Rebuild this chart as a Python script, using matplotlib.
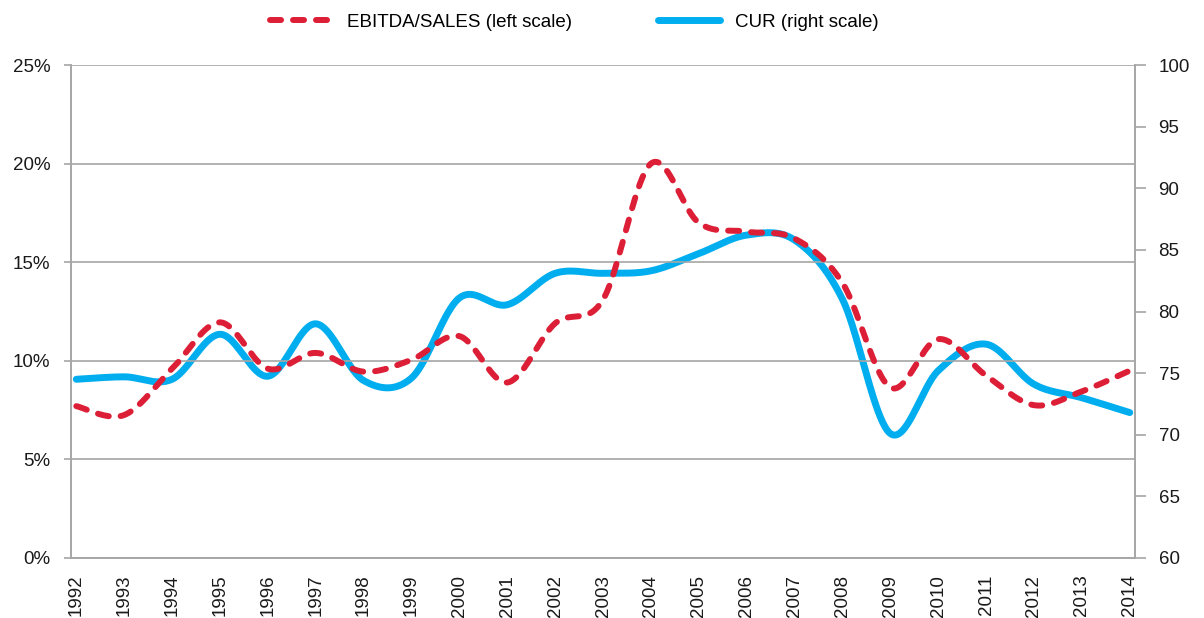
import numpy as np
import matplotlib.pyplot as plt

plt.rcParams['font.family'] = ['Liberation Sans', 'DejaVu Sans']

years = [str(y) for y in range(1992, 2015)]
ebitda_sales = [7.7, 7.25, 9.6, 11.95, 9.6, 10.4, 9.45, 10.05, 11.25, 8.9, 11.9, 13.1,
                20.0, 17.0, 16.55, 16.2, 13.95, 8.65, 11.1, 9.25, 7.75, 8.45, 9.5]
cur = [74.5, 74.7, 74.5, 78.15, 74.75, 79.0, 74.4, 74.6, 81.1, 80.55, 83.1, 83.1,
       83.3, 84.7, 86.2, 85.8, 81.0, 70.1, 75.2, 77.35, 74.1, 73.0, 71.8]

red = '#dc1f36'
blue = '#00aeef'
grid_col = '#a6a6a6'


def smooth(vals, n=40):
    # Excel style smoothed line (Catmull-Rom as cubic Bezier)
    x = np.arange(len(vals), dtype=float)
    y = np.asarray(vals, dtype=float)
    xs, ys = [], []
    t = np.linspace(0, 1, n)
    for i in range(len(y) - 1):
        i0 = max(i - 1, 0)
        i3 = min(i + 2, len(y) - 1)
        for arr, out in ((x, xs), (y, ys)):
            p0, p1, p2, p3 = arr[i0], arr[i], arr[i + 1], arr[i3]
            c1 = p1 + (p2 - p0) / 6
            c2 = p2 - (p3 - p1) / 6
            seg = ((1 - t) ** 3 * p1 + 3 * (1 - t) ** 2 * t * c1
                   + 3 * (1 - t) * t ** 2 * c2 + t ** 3 * p2)
            out.extend(seg if i == 0 else seg[1:])
    return np.array(xs), np.array(ys)


fig = plt.figure(figsize=(12.04, 6.18), dpi=100)
ax = fig.add_axes([0.059, 0.0971, 0.8837, 0.7977])
ax2 = ax.twinx()

ax.set_ylim(0, 25)
ax.set_yticks([0, 5, 10, 15, 20, 25])
ax.set_yticklabels([f'{v}%' for v in [0, 5, 10, 15, 20, 25]])
ax.yaxis.grid(True, color=grid_col, linewidth=1.2)
ax.set_axisbelow(True)
ax2.set_ylim(60, 100)
ax2.set_yticks(range(60, 101, 5))

ax.set_xlim(-0.11, 22.11)
ax.set_xticks(range(len(years)))
ax.set_xticklabels(years, rotation=90, va='top')

for a in (ax, ax2):
    for s in a.spines.values():
        s.set_color(grid_col)
        s.set_linewidth(1.2)
    a.spines['top'].set_visible(False)

ax.tick_params(axis='y', length=5, color=grid_col, width=1.2, pad=10, labelsize=13.5, labelcolor='#1a1a1a')
ax.tick_params(axis='x', length=0, pad=12, labelsize=13.5, labelcolor='#1a1a1a')
ax2.tick_params(axis='y', length=8, color=grid_col, width=1.2, pad=9, labelsize=13.5, labelcolor='#1a1a1a')

xs, ys = smooth(ebitda_sales)
l1, = ax.plot(xs, ys, color=red, linewidth=4.3, linestyle=(0, (1.85, 2.0)),
              dash_capstyle='round', label='EBITDA/SALES (left scale)', zorder=3)
xs2, ys2 = smooth(cur)
l2, = ax2.plot(xs2, ys2, color=blue, linewidth=5, solid_capstyle='round',
               label='CUR (right scale)', zorder=2)
ax.set_zorder(ax2.get_zorder() + 1)
ax.patch.set_visible(False)

fig.legend(handles=[l1, l2], loc='center', bbox_to_anchor=(0.477, 0.964), ncol=2,
           frameon=False, fontsize=13.5, handlelength=3.3, handletextpad=0.8,
           columnspacing=4.6)

plt.savefig('out.png', dpi=100)
plt.close()
